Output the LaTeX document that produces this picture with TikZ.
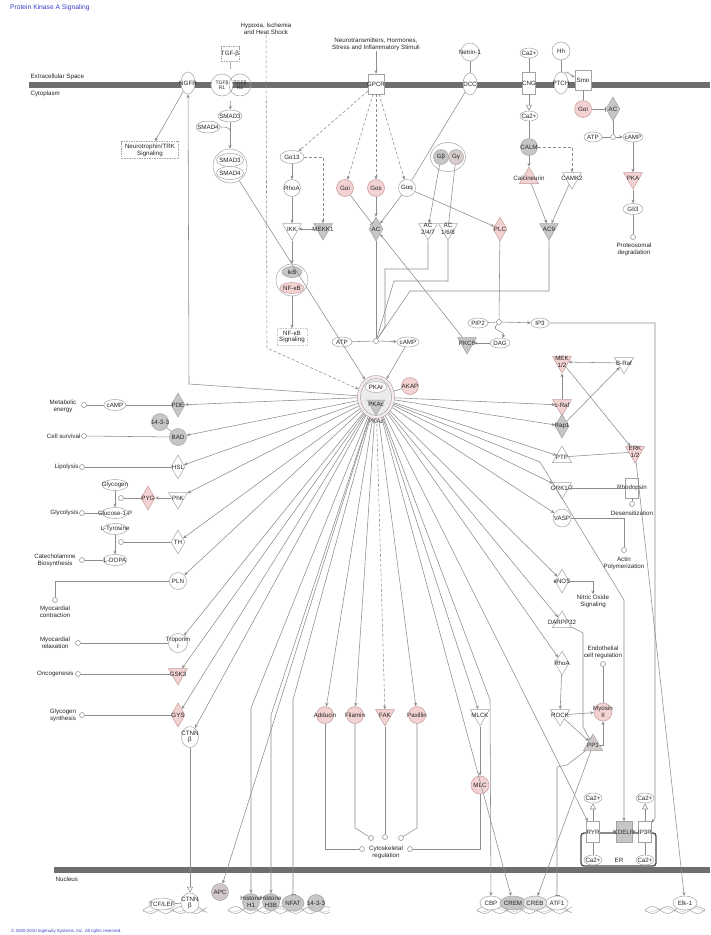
\documentclass[tikz,border=0pt]{standalone}
\usepackage{fontspec}
\setmainfont{Liberation Sans}
\usetikzlibrary{shapes.geometric,arrows.meta}
\definecolor{pinkf}{HTML}{F3D2D2}
\definecolor{pinkd}{HTML}{C79A9A}
\definecolor{grayf}{HTML}{C6C6C6}
\definecolor{lnc}{HTML}{8C8C8C}
\definecolor{ndc}{HTML}{A3A3A3}
\definecolor{memb}{HTML}{6E6E6E}
\definecolor{ttl}{HTML}{3C3CC8}
\newcommand{\dnahelix}[3]{%
  \draw[ndc, line width=0.5pt] plot[domain=#1:#2, samples=80, smooth] (\x,{#3+3.4*sin(12*(\x-#1))});
  \draw[ndc, line width=0.5pt] plot[domain=#1:#2, samples=80, smooth] (\x,{#3-3.4*sin(12*(\x-#1))});
  \draw[ndc!70, line width=0.4pt] plot[domain=#1:#2, samples=80, smooth] (\x,{#3+2*sin(12*(\x-#1)+40)});}
\tikzset{
  txt/.style={font=\fontsize{6.2}{6.8}\selectfont, align=center, inner sep=0.4pt, text=black!85},
  stxt/.style={font=\fontsize{5}{5.6}\selectfont, align=center, inner sep=0.3pt, text=black!85},
  nd/.style={draw=ndc, line width=0.5pt, fill=white, inner sep=0pt},
  crc/.style={nd, circle, minimum size=17},
  pcrc/.style={crc, fill=pinkf, draw=pinkd},
  gcrc/.style={crc, fill=grayf},
  ell/.style={nd, ellipse, minimum width=20, minimum height=11},
  kin/.style={nd, regular polygon, regular polygon sides=3, shape border rotate=180, minimum size=22},
  phos/.style={nd, regular polygon, regular polygon sides=3, minimum size=22},
  enz/.style={nd, diamond, minimum width=14, minimum height=24},
  rec/.style={nd, rectangle, minimum width=13, minimum height=20},
  pk/.style={fill=pinkf, draw=pinkd},
  gy/.style={fill=grayf},
  smc/.style={circle, draw=lnc, fill=white, minimum size=5, inner sep=0pt, line width=0.5pt},
  ln/.style={draw=lnc, line width=0.55pt},
  ar/.style={ln, -{Stealth[length=3.6pt,width=3.2pt]}},
  inh/.style={ln, -{Bar[width=5pt]}},
  oar/.style={ln, -{Triangle[open,length=6pt,width=6pt]}},
  dsh/.style={dash pattern=on 3pt off 2pt},
  lab/.style={label={[txt]center:#1}},
  slab/.style={label={[stxt]center:#1}},
}
\begin{document}
\begin{tikzpicture}[x=1pt,y=-1pt]
\fill[white] (0,0) rectangle (710,935);
\useasboundingbox (0,0) rectangle (710,935);
% membranes
\fill[memb] (29,82) rectangle (710,88);
\fill[memb] (54,867) rectangle (710,873);
\node[txt, anchor=west] (extra) at (30,77) {Extracellular Space};
\node[txt, anchor=west] (cyto) at (30,94) {Cytoplasm};
\node[txt, anchor=west] (nucl) at (55,879) {Nucleus};
\node[anchor=west, text=ttl, font=\fontsize{6.7}{7}\selectfont, inner sep=0] (title) at (10,8) {Protein Kinase A Signaling};
\node[anchor=west, text=ttl, font=\fontsize{4.4}{5}\selectfont, inner sep=0] (copyr) at (11,931) {© 2000-2010 Ingenuity Systems, Inc. All rights reserved.};
% DNA
\dnahelix{143}{207}{910}
\dnahelix{228}{330}{910}
\dnahelix{477}{572}{910}
\dnahelix{645}{705}{910}
% ---------- top left
\node[ell, minimum width=14, minimum height=22, lab=NGFR] (ngfr) at (188,83) {};
\node[nd, dash pattern=on 1.5pt off 1pt, rectangle, minimum width=57, minimum height=17, txt] (ntrk) at (150,150) {Neurotrophin/TRK\\Signaling};
\node[rec, dash pattern=on 1.5pt off 1pt, minimum width=18, minimum height=15, lab={TGF-β}] (tgfb) at (230,54) {};
\node[circle, minimum size=32, inner sep=0] (tgfr) at (231,85) {};
\node[crc, minimum size=22, slab={TGFβ\\R1}] (tgfr1) at (222,85) {};
\node[crc, minimum size=22, fill=none, slab={TGFβ\\R2}] (tgfr2) at (240,85) {};
\node[ell, minimum width=24, minimum height=12, lab=SMAD3] (smad3) at (230,116) {};
\node[ell, minimum width=24, minimum height=12, lab=SMAD4] (smad4) at (208,127) {};
\coordinate (smadj) at (230,131);
\node[crc, minimum size=34] (smadc) at (230,166) {};
\node[ell, minimum width=27, minimum height=13, lab=SMAD3] (smadc3) at (230,160) {};
\node[ell, minimum width=27, minimum height=13, lab=SMAD4] (smadc4) at (230,173) {};
\node[txt] (hyp) at (266,29) {Hypoxia, Ischemia\\and Heat Shock};
\coordinate (hypc) at (267,348);
\node[txt] (neuro) at (376,44) {Neurotransmitters, Hormones,\\Stress and Inflammatory Stimuli};
\node[rec, minimum width=16, minimum height=20, lab=GPCR] (gpcr) at (376,84) {};
% G proteins
\node[ell, minimum width=24, minimum height=13, lab={Gα13}] (ga13) at (292,157) {};
\node[crc, lab=RhoA] (rhoa1) at (292,188) {};
\node[kin, lab=IKK] (ikk) at (292,229) {};
\node[kin, gy, lab=MEKK1] (mekk1) at (323,229) {};
\coordinate (k13) at (323,157);
\node[crc, minimum size=32] (nfkbc) at (292,280) {};
\node[ell, gy, minimum width=20, minimum height=11, lab={IκB}] (ikb) at (292,272) {};
\node[ell, pk, minimum width=24, minimum height=11, lab={NF-κB}] (nfkb) at (292,288) {};
\node[nd, draw=ndc!60, dash pattern=on 1.5pt off 1pt, rectangle, minimum width=30, minimum height=17, txt] (nfkbs) at (292,337) {NF-κB\\Signaling};
\node[pcrc, lab={Gαi}] (gai1) at (345,188) {};
\node[pcrc, lab={Gαs}] (gas) at (376,188) {};
\node[crc, lab={Gαq}] (gaq) at (407,188) {};
\node[ell, minimum width=35, minimum height=29] (gbg) at (448,157) {};
\node[gcrc, minimum size=15, lab={Gβ}] (gb) at (441,157) {};
\node[gcrc, fill=grayf!60!pinkf, minimum size=15, lab={Gγ}] (gg) at (456,157) {};
\node[enz, gy, lab=AC] (ac) at (376,229) {};
\node[kin, lab={AC\\2/4/7}] (ac247) at (428,229) {};
\node[kin, lab={AC\\1/6/8}] (ac168) at (448,229) {};
\node[enz, pk, lab=PLC] (plc) at (500,229) {};
\node[crc, minimum size=18, lab={Netrin-1}] (netrin) at (470,52) {};
\node[ell, minimum width=14, minimum height=22, lab=DCC] (dcc) at (470,84) {};
% top right
\node[ell, minimum width=18, minimum height=10, lab={Ca2+}] (catop) at (529,53) {};
\node[rec, minimum height=22, lab=CNG] (cng) at (529,83) {};
\node[ell, minimum width=18, minimum height=10, lab={Ca2+}] (camid) at (529,116) {};
\node[gcrc, lab=CALM] (calm) at (529,147) {};
\node[phos, pk, lab=Calcineurin] (calcin) at (529,178) {};
\node[kin, lab=CAMK2] (camk2) at (572,178) {};
\coordinate (k1) at (572,147);
\node[kin, gy, lab=AC9] (ac9) at (549,229) {};
\node[crc, minimum size=18, lab=Hh] (hh) at (561,51) {};
\node[ell, minimum width=14, minimum height=22, lab=PTCH] (ptch) at (561,83) {};
\node[rec, minimum width=16, minimum height=20, lab=Smo] (smo) at (583,80) {};
\node[pcrc, lab={Gαi}] (gai2) at (583,109) {};
\node[enz, gy, lab=AC] (ac2) at (613,109) {};
\node[ell, minimum width=18, minimum height=10, lab=ATP] (atp2) at (593,137) {};
\node[ell, minimum width=20, minimum height=10, lab=cAMP] (camp2) at (633,137) {};
\node[smc] (cv2) at (613,137) {};
\node[kin, pk, lab=PKA] (pka2) at (633,178) {};
\node[ell, minimum width=20, minimum height=11, lab=Gli3] (gli3) at (633,209) {};
\node[smc] (cgli) at (633,237) {};
\node[txt] (proteo) at (634,249) {Proteosomal\\degradation};
% cAMP production
\node[ell, minimum width=20, minimum height=10, lab=ATP] (atp1) at (342,342) {};
\node[ell, minimum width=22, minimum height=10, lab=cAMP] (camp1) at (408,342) {};
\node[smc] (cvm) at (376,341) {};
\coordinate (p1) at (428,269); \coordinate (p2) at (385,269); \coordinate (p3) at (385,327);
\coordinate (q1) at (448,281); \coordinate (q2) at (394,281);
\coordinate (r1) at (549,291); \coordinate (r2) at (410,291);
\node[ell, minimum width=20, minimum height=10, lab=PIP2] (pip2) at (478,323) {};
\node[ell, minimum width=18, minimum height=10, lab=IP3] (ip3) at (540,323) {};
\node[smc] (cv3) at (499,322) {};
\node[ell, minimum width=20, minimum height=10, lab=DAG] (dag) at (500,343) {};
\node[kin, gy, lab={PKCθ}] (pkc) at (467,343) {};
% PKA complex
\node[nd, ellipse, minimum width=37, minimum height=43, fill=pinkf!40] (pka) at (376,397) {};
\node[ellipse, draw=ndc, line width=0.5pt, minimum width=31, minimum height=37, fill=grayf!35] (pkain) at (376,397) {};
\node[ellipse, draw=ndc, line width=0.4pt, fill=white!85!pinkf, minimum width=22, minimum height=11] (pkar) at (376,387) {};
\node[kin, gy, minimum size=20] (pkac) at (376,405) {};
\node[txt] (pkart) at (376,387) {PKAr};
\node[txt] (pkact) at (376,404) {PKAc};
\node[txt] (pkact2) at (376,421) {PKAc};
\node[pcrc, lab=AKAP] (akap) at (410,386) {};
% left side
\node[enz, gy, lab=PDE] (pde) at (178,405) {};
\node[ell, minimum width=22, minimum height=11, lab=cAMP] (campl) at (115,405) {};
\node[smc] (cmet) at (84,405) {};
\node[txt] (tmet) at (63,406) {Metabolic\\energy};
\node[gcrc, lab={14-3-3}] (b1433) at (160,422) {};
\node[gcrc, lab=BAD] (bad) at (178,437) {};
\node[smc] (csurv) at (84,436) {};
\node[txt, anchor=east] (tsurv) at (81,436) {Cell survival};
\node[enz, lab=HSL] (hsl) at (178,467) {};
\node[smc] (clip) at (82,467) {};
\node[txt, anchor=east] (tlip) at (79,467) {Lipolysis};
\node[ell, minimum width=26, minimum height=11, lab=Glycogen] (glycogen) at (115,485) {};
\node[enz, pk, lab=PYG] (pyg) at (148,498) {};
\node[kin, lab=PhK] (phk) at (178,498) {};
\node[smc] (cpyg) at (121,498) {};
\node[ell, minimum width=26, minimum height=11, lab={Glucose-1-P}] (g1p) at (115,513) {};
\node[smc] (cglyc) at (82,513) {};
\node[txt, anchor=east] (tglyc) at (79,513) {Glycolysis};
\node[ell, minimum width=24, minimum height=11, lab={L-Tyrosine}] (ltyr) at (115,529) {};
\node[enz, lab=TH] (th) at (178,542) {};
\node[smc] (cth) at (121,542) {};
\node[ell, minimum width=24, minimum height=11, lab={L-DOPA}] (ldopa) at (115,560) {};
\node[smc] (ccat) at (82,560) {};
\node[txt] (tcat) at (55,560) {Catecholamine\\Biosynthesis};
\node[crc, lab=PLN] (pln) at (178,581) {};
\coordinate (cm1) at (55,581);
\node[smc] (cmyoc) at (55,600) {};
\node[txt] (tmyoc) at (55,612) {Myocardial\\contraction};
\node[crc, minimum size=19, lab={Troponin\\I}] (tropo) at (178,643) {};
\node[smc] (crel) at (78,643) {};
\node[txt] (trel) at (55,643) {Myocardial\\relaxation};
\node[kin, pk, lab=GSK3] (gsk) at (178,674) {};
\node[smc] (conc) at (78,674) {};
\node[txt, anchor=east] (tonc) at (74,674) {Oncogenesis};
\node[enz, pk, lab=GYS] (gys) at (178,715) {};
\node[smc] (cgys) at (82,715) {};
\node[txt] (tgys) at (63,715) {Glycogen\\synthesis};
\node[ell, minimum width=17, minimum height=21, lab={CTNN\\β}] (ctnn) at (190,737) {};
% nucleus
\node[ell, minimum width=26, minimum height=12, lab={TCF/LEF}] (tcf) at (162,904) {};
\node[ell, minimum width=18, minimum height=20, lab={CTNN\\β}] (ctnnn) at (190,903) {};
\node[gcrc, fill=grayf!75!pinkf, lab=APC] (apc) at (220,892) {};
\node[gcrc, lab={Histone\\H1}] (h1) at (251,902) {};
\node[gcrc, lab={Histone\\H3B}] (h3b) at (271,902) {};
\node[ell, gy, minimum width=22, minimum height=16, lab=NFAT] (nfat) at (293,903) {};
\node[gcrc, lab={14-3-3}] (n1433) at (316,903) {};
\node[ell, minimum width=22, minimum height=14, lab=CBP] (cbp) at (491,903) {};
\node[ell, gy, minimum width=26, minimum height=14, lab=CREM] (crem) at (513,903) {};
\node[ell, fill=grayf!50, minimum width=24, minimum height=14, lab=CREB] (creb) at (535,903) {};
\node[ell, minimum width=22, minimum height=14, lab=ATF1] (atf1) at (557,903) {};
\node[ell, minimum width=24, minimum height=14, lab={Elk-1}] (elk1) at (685,903) {};
\coordinate (h1b) at (251,708); \coordinate (h3bb) at (271,715); \coordinate (nfb) at (293,700);
\coordinate (cbpb) at (490,700);
% cytoskeleton
\node[pcrc, lab=Adducin] (adducin) at (325,715) {};
\node[pcrc, lab=Filamin] (filamin) at (355,715) {};
\node[kin, pk, lab=FAK] (fak) at (385,715) {};
\node[pcrc, lab=Paxillin] (paxillin) at (417,715) {};
\node[kin, lab=MLCK] (mlck) at (480,715) {};
\node[pcrc, minimum size=18, lab=MLC] (mlc) at (480,785) {};
\node[txt] (tcyto) at (386,852) {Cytoskeletal\\regulation};
\node[smc] (c1) at (362,849) {};
\node[smc] (c2) at (371,838) {};
\node[smc] (c3) at (385,837) {};
\node[smc] (c4) at (401,838) {};
\node[smc] (c5) at (410,849) {};
\coordinate (a1) at (325,849); \coordinate (f1) at (355,828); \coordinate (x1) at (417,828); \coordinate (l1) at (480,849);
% right side
\node[kin, pk, lab={MEK\\1/2}] (mek) at (562,362) {};
\node[kin, lab={B-Raf}] (braf) at (624,363) {};
\node[kin, pk, lab={c-Raf}] (craf) at (562,405) {};
\node[enz, gy, lab=Rap1] (rap1) at (562,426) {};
\node[phos, lab=PTP] (ptp) at (562,457) {};
\node[kin, pk, lab={ERK\\1/2}] (erk) at (635,452) {};
\node[kin, lab={GRK1/7}] (grk) at (562,488) {};
\node[rec, lab=Rhodopsin] (rhod) at (632,488) {};
\node[smc] (cdes) at (632,504) {};
\node[txt] (tdes) at (632,513) {Desensitization};
\node[crc, minimum size=18, lab=VASP] (vasp) at (562,518) {};
\coordinate (v1) at (624,518);
\node[smc] (cact) at (624,550) {};
\node[txt] (tact) at (624,563) {Actin\\Polymerization};
\node[enz, lab=eNOS] (enos) at (562,581) {};
\coordinate (e1) at (593,581);
\node[txt] (tno) at (593,601) {Nitric Oxide\\Signaling};
\node[phos, lab=DARPP32] (darpp) at (562,622) {};
\coordinate (d1) at (583,633); \coordinate (d2) at (583,727);
\node[txt] (tendo) at (603,652) {Endothelial\\cell regulation};
\node[smc] (cendo) at (603,664) {};
\node[enz, lab=RhoA] (rhoa2) at (562,663) {};
\node[kin, lab=ROCK] (rock) at (560,715) {};
\node[pcrc, minimum size=18, lab={Myosin\\II}] (myosin) at (603,712) {};
\node[phos, fill=grayf!70!pinkf, lab=PP1] (pp1) at (593,745) {};
\coordinate (t1) at (567,765); \coordinate (t2) at (557,767);
\coordinate (kd1) at (540,462); \coordinate (kd2) at (624,600);
\coordinate (s1) at (655,323); \coordinate (s2) at (655,818);
\coordinate (ngfrc) at (189,384);
% ER
\draw[rounded corners=3pt, line width=1.3pt, draw=black!70] (581,833) rectangle (656,866);
\node[rec, minimum height=21, lab=RYR] (ryr) at (593,832) {};
\node[rec, gy, minimum width=16, minimum height=21, lab=KDELR] (kdelr) at (624,832) {};
\node[rec, minimum height=21, lab=IP3R] (ip3r) at (645,832) {};
\node[ell, minimum width=18, minimum height=10, lab={Ca2+}] (cat1) at (593,798) {};
\node[ell, minimum width=18, minimum height=10, lab={Ca2+}] (cat2) at (645,798) {};
\node[ell, minimum width=18, minimum height=10, lab={Ca2+}] (cab1) at (593,860) {};
\node[ell, minimum width=18, minimum height=10, lab={Ca2+}] (cab2) at (645,860) {};
\node[txt] (ter) at (619,860) {ER};
% ================= edges
\draw[ar] (ngfr) -- (ntrk);
\draw[ar] (pka) -- (ngfrc) -- (ngfr);
\draw[ln] (tgfb) -- (tgfr);
\draw[ar] (tgfr) -- (smad3);
\draw[ar] (smad3) -- (smadc);
\draw[ln] (smad4) to[out=0, in=90] (smadj);
\draw[ar] (smadc) -- (pka);
\draw[ar, dsh] (hyp) -- (hypc) -- (pka);
\draw[ar] (neuro) -- (gpcr);
\draw[ar, dsh] (gpcr) -- (ga13);
\draw[ar, dsh] (gpcr) -- (gai1);
\draw[ar, dsh] (gpcr) -- (gas);
\draw[ar, dsh] (gpcr) -- (gaq);
\draw[ar] (ga13) -- (rhoa1);
\draw[ar] (rhoa1) -- (ikk);
\draw[ar, dsh] (ga13) -- (k13) -- (mekk1);
\draw[ar] (mekk1) -- (ikk);
\draw[ar] (ikk) -- (nfkbc);
\draw[ar] (nfkbc) -- (nfkbs);
\draw[inh] (gai1) -- (ac);
\draw[ar] (gas) -- (ac);
\draw[ln] (netrin) -- (dcc);
\draw[ln] (dcc) -- (gaq);
\draw[ar] (gaq) -- (ac);
\draw[ar] (gaq) -- (plc);
\draw[ar] (gb) -- (ac247);
\draw[inh] (gg) -- (ac168);
\draw[ln] (ac) -- (cvm);
\draw[ln] (ac247) -- (p1) -- (p2) -- (p3) -- (cvm);
\draw[ln] (ac168) -- (q1) -- (q2) -- (cvm);
\draw[ln] (ac9) -- (r1) -- (r2) -- (cvm);
\draw[ln] (atp1) -- (cvm);
\draw[ar] (cvm) -- (camp1);
\draw[ar] (camp1) -- (pka);
\draw[ln] (plc) -- (cv3);
\draw[ln] (pip2) -- (cv3);
\draw[ar] (cv3) -- (ip3);
\draw[ar] (cv3) .. controls (490,332) and (506,330) .. (dag);
\draw[ar] (dag) -- (pkc);
\draw[ar] (pkc) -- (ac);
\draw[ar] (ip3) -- (s1) -- (s2) -- (ip3r);
\draw[ln] (catop) -- (cng);
\draw[oar] (cng) -- (camid);
\draw[ln] (camid) -- (calm);
\draw[ar] (calm) -- (calcin);
\draw[ar, dsh] (calm) -- (k1) -- (camk2);
\draw[ar] (calcin) -- (ac9);
\draw[ar] (camk2) -- (ac9);
\draw[ln] (hh) -- (ptch);
\draw[ar] (ptch) to[out=70, in=160] (smo);
\draw[ln] (smo) -- (gai2);
\draw[inh] (gai2) -- (ac2);
\draw[ln] (ac2) -- (cv2);
\draw[ln] (atp2) -- (cv2);
\draw[ar] (cv2) -- (camp2);
\draw[ar] (camp2) -- (pka2);
\draw[ar] (pka2) -- (gli3);
\draw[ln] (gli3) -- (cgli);
\draw[ln] (pka) -- (akap);
% PKA fan
\foreach \tg in {pde,bad,hsl,phk,th,pln,tropo,gsk,gys,ctnn,apc,adducin,filamin,paxillin,mlck,crem,ryr,craf,rap1,ptp,grk,vasp,enos,darpp,rhoa2}
  {\draw[ar] (pka) -- (\tg);}
\draw[ar, dsh] (pka) -- (fak);
\draw[ar] (pka) -- (h1b) -- (h1);
\draw[ar] (pka) -- (h3bb) -- (h3b);
\draw[inh] (pka) -- (nfb) -- (nfat);
\draw[ar] (pka) -- (cbpb) -- (cbp);
\draw[ar] (pka) -- (kd1) -- (kd2) -- (kdelr);
% left processes
\draw[ln] (pde) -- (campl) -- (cmet);
\draw[ln] (b1433) -- (bad);
\draw[ln] (bad) -- (csurv);
\draw[ln] (hsl) -- (clip);
\draw[ar] (phk) -- (pyg);
\draw[ln] (pyg) -- (cpyg);
\draw[ar] (glycogen) -- (g1p);
\draw[ln] (g1p) -- (cglyc);
\draw[ar] (ltyr) -- (ldopa);
\draw[ln] (th) -- (cth);
\draw[ln] (ldopa) -- (ccat);
\draw[ln] (pln) -- (cm1) -- (cmyoc);
\draw[ln] (tropo) -- (crel);
\draw[ln] (gsk) -- (conc);
\draw[ln] (gys) -- (cgys);
\draw[oar] (ctnn) -- (ctnnn);
\draw[ln] (tcf) -- (ctnnn);
% cytoskeleton
\draw[ln] (adducin) -- (a1) -- (c1);
\draw[ln] (filamin) -- (f1) -- (c2);
\draw[ln] (fak) -- (c3);
\draw[ln] (paxillin) -- (x1) -- (c4);
\draw[ar] (mlck) -- (mlc);
\draw[ln] (mlc) -- (l1) -- (c5);
% right cluster
\draw[ar] (braf) -- (mek);
\draw[ar] (craf) -- (mek);
\draw[ar] (rap1) -- (braf);
\draw[ar] (mek) -- (erk);
\draw[ln] (erk) -- (ptp);
\draw[ar] (erk) -- (elk1);
\draw[ln] (grk) -- (rhod);
\draw[ln] (rhod) -- (cdes);
\draw[ln] (vasp) -- (v1) -- (cact);
\draw[ar] (enos) -- (e1) -- (tno);
\draw[inh] (darpp) -- (d1) -- (d2) -- (pp1);
\draw[ar] (rhoa2) -- (rock);
\draw[ar] (rock) -- (myosin);
\draw[ar] (rock) -- (pp1);
\draw[ar] (pp1) -| (myosin);
\draw[ln] (myosin) -- (cendo);
\draw[ar] (pp1) -- (creb);
\draw[inh] (pp1) -- (t1) -- (t2) -- (atf1);
\draw[ln] (cab1) -- (ryr);
\draw[oar] (ryr) -- (cat1);
\draw[ln] (cab2) -- (ip3r);
\draw[oar] (ip3r) -- (cat2);
\draw[ar] (ryr) -- (kdelr);
\draw[ar] (ip3r) -- (kdelr);
\end{tikzpicture}
\end{document}
